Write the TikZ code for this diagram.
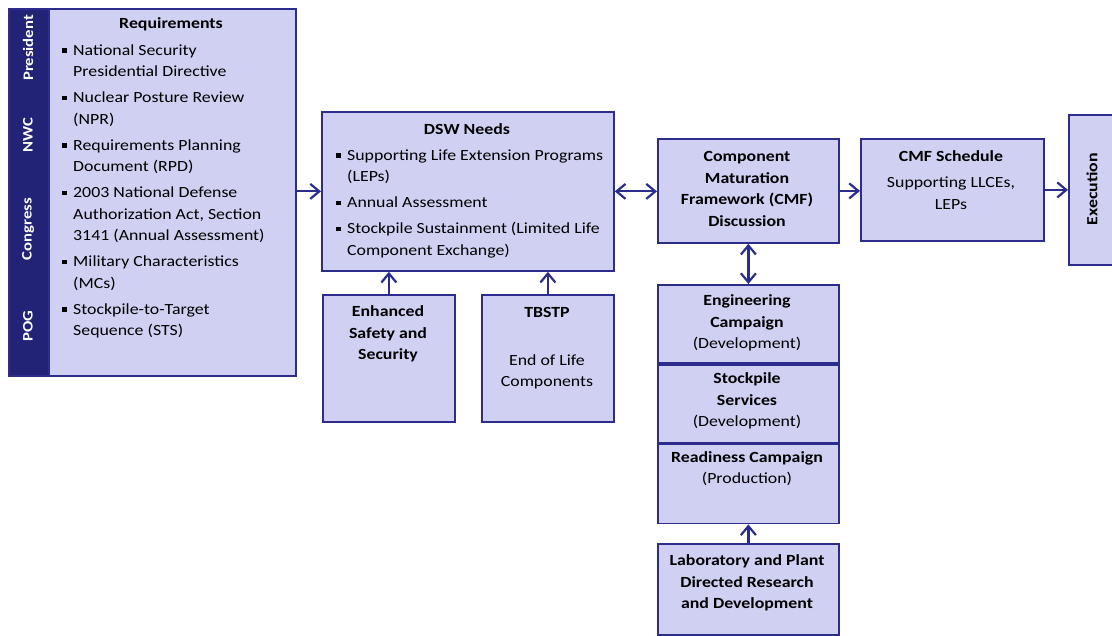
\documentclass[tikz,border=0pt]{standalone}
\usepackage{fontspec}
\setmainfont{Carlito}[FakeStretch=1.15]
\usepackage{tikz}
\usetikzlibrary{positioning, arrows.meta}
\definecolor{boxfill}{RGB}{208,208,242}
\definecolor{boxline}{RGB}{44,44,140}
\definecolor{bandfill}{RGB}{34,34,118}
\newcommand{\sqb}{\makebox[11pt][l]{\rule[2.5pt]{4.5pt}{4.5pt}}}
\newcommand{\ind}{\hspace*{11pt}}
\tikzset{
box/.style={draw=boxline, fill=boxfill, line width=1.8pt, inner sep=0pt, anchor=north west}, % every block of the chart
txt/.style={inner sep=0pt, align=center, font=\fontsize{15.5}{21.5}\selectfont}, % texts in the blocks
btxt/.style={txt, font=\fontsize{15.5}{21.5}\selectfont\bfseries}, % bold texts
lst/.style={txt, align=left, anchor=north west}, % bullet lists
side/.style={txt, rotate=90, text=white, font=\fontsize{14.5}{16}\selectfont\bfseries}, % labels on the dark band
arr/.style={-{Straight Barb[length=9pt, width=15pt]}, line width=2.2pt, draw=boxline}, % one-way arrow
darr/.style={{Straight Barb[length=9pt, width=15pt]}-{Straight Barb[length=9pt, width=15pt]}, line width=2.2pt, draw=boxline}, % two-way arrow
}

\begin{document}
\begin{tikzpicture}[x=1pt, y=-1pt]
    \clip (0,0) rectangle (1112,636);
    \fill[white] (0,0) rectangle (1112,636);
    % boxes
    \node[box, minimum width=287pt, minimum height=367pt] (req) at (8,8) {};
    \node[box, fill=bandfill, minimum width=40pt, minimum height=367pt] (band) at (8,8) {};
    \node[box, minimum width=292pt, minimum height=159pt] (dsw) at (321,111) {};
    \node[box, minimum width=132pt, minimum height=127pt] (ess) at (322,294) {};
    \node[box, minimum width=132pt, minimum height=127pt] (tbstp) at (481,294) {};
    \node[box, minimum width=181pt, minimum height=104pt] (cmf) at (657,138) {};
    \node[box, minimum width=183pt, minimum height=102pt] (sched) at (860,138) {};
    \node[box, minimum width=80pt, minimum height=150pt] (exec) at (1068,114) {};
    \node[box, minimum width=181pt, minimum height=78pt] (eng) at (657,284) {};
    \node[box, minimum width=181pt, minimum height=78pt, below=0pt of eng] (svc) {};
    \node[box, minimum width=181pt, minimum height=79pt, below=0pt of svc] (ready) {};
    \node[box, minimum width=181pt, minimum height=91pt] (lab) at (657,543) {};
    % texts
    \node[side] (pres) at (28,48) {President};
    \node[side] (nwc) at (28,135) {NWC};
    \node[side] (cong) at (28,229) {Congress};
    \node[side] (pog) at (28,326) {POG};
    \node[btxt] (reqtitle) at (171,24) {Requirements};
    \node[lst] (reqlist) at (62,44.5) {\sqb National Security\\\ind Presidential Directive\\[4.5pt]
        \sqb Nuclear Posture Review\\\ind (NPR)\\[4.5pt]
        \sqb Requirements Planning\\\ind Document (RPD)\\[4.5pt]
        \sqb 2003 National Defense\\\ind Authorization Act, Section\\\ind 3141 (Annual Assessment)\\[4.5pt]
        \sqb Military Characteristics\\\ind (MCs)\\[4.5pt]
        \sqb Stockpile-to-Target\\\ind Sequence (STS)};
    \node[btxt] (dswtitle) at (467,129.5) {DSW Needs};
    \node[lst] (dswlist) at (336,149.5) {\sqb Supporting Life Extension Programs\\\ind (LEPs)\\[4.5pt]
        \sqb Annual Assessment\\[4.5pt]
        \sqb Stockpile Sustainment (Limited Life\\\ind Component Exchange)};
    \node[btxt] (esstext) at (388,334) {Enhanced\\Safety and\\Security};
    \node[btxt] (tbstptitle) at (547,312.5) {TBSTP};
    \node[txt] (tbstptext) at (547,372) {End of Life\\Components};
    \node[btxt] (cmftext) at (747,189) {Component\\Maturation\\Framework (CMF)\\Discussion};
    \node[btxt] (schedtitle) at (951,156) {CMF Schedule};
    \node[txt] (schedtext) at (951,193) {Supporting LLCEs,\\LEPs};
    \node[btxt, rotate=90] (exectext) at (1092,189) {Execution};
    \node[txt] (engtext) at (747,323) {\textbf{Engineering}\\\textbf{Campaign}\\(Development)};
    \node[txt] (svctext) at (747,401) {\textbf{Stockpile}\\\textbf{Services}\\(Development)};
    \node[txt] (readytext) at (747,468.5) {\textbf{Readiness Campaign}\\(Production)};
    \node[btxt] (labtext) at (747,583) {Laboratory and Plant\\Directed Research\\and Development};
    % connectors
    \draw[arr] (dsw.west -| req.east) -- (dsw.west);
    \draw[darr] (dsw.east) -- (dsw.east -| cmf.west);
    \draw[arr] (cmf.east) -- (cmf.east -| sched.west);
    \draw[arr] (sched.east) -- (sched.east -| exec.west);
    \draw[darr] (cmf.south) -- (eng.north);
    \draw[arr] (ess.north) -- (ess.north |- dsw.south);
    \draw[arr] (tbstp.north) -- (tbstp.north |- dsw.south);
    \draw[arr] (lab.north) -- (ready.south);
\end{tikzpicture}
\end{document}
